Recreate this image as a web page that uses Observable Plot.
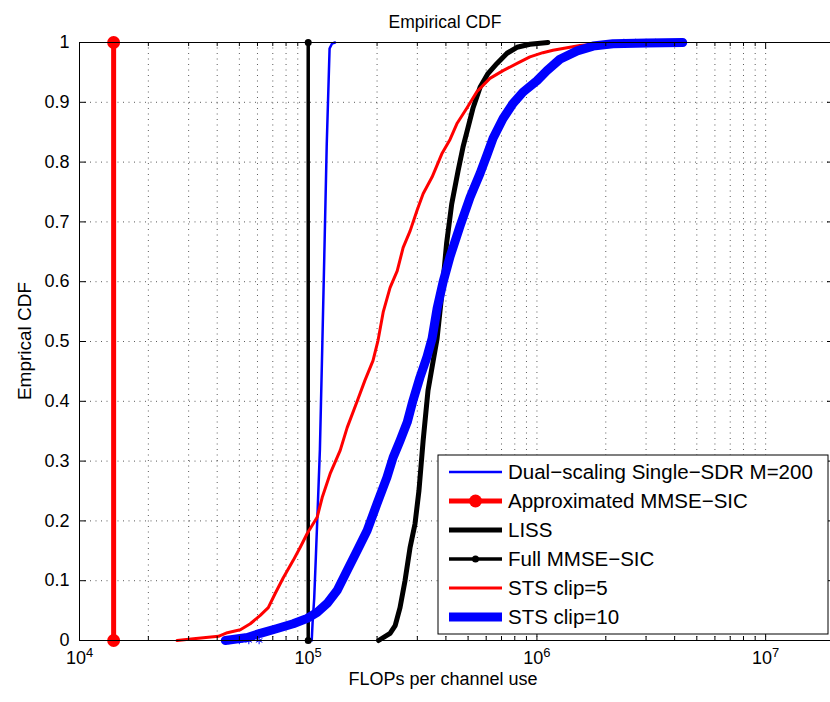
<!DOCTYPE html>
<html><head><meta charset="utf-8">
<script src="https://cdn.jsdelivr.net/npm/d3@7"></script>
<script src="https://cdn.jsdelivr.net/npm/@observablehq/plot@0.6"></script>
<style>
html,body{margin:0;padding:0;background:#fff;overflow:hidden;}
#chart{position:relative;width:830px;height:702px;overflow:hidden;}
</style></head><body><div id="chart"></div>
<script>
// ---------- data (x = FLOPs per channel use, y = empirical CDF) ----------
const dualScaling = [[1.036e5,0],[1.045e5,0.03],[1.062e5,0.07],[1.08e5,0.14],[1.10e5,0.22],[1.125e5,0.32],[1.151e5,0.485],[1.18e5,0.67],[1.205e5,0.83],[1.24e5,0.99],[1.27e5,0.998],[1.31e5,1]];
const approxMMSE = [[1.41e4,0],[1.41e4,1]];
const liss = [[2.03e5,0],[2.28e5,0.012],[2.40e5,0.025],[2.52e5,0.055],[2.65e5,0.10],[2.79e5,0.156],[2.93e5,0.195],[3.05e5,0.251],[3.18e5,0.334],[3.34e5,0.418],[3.52e5,0.468],[3.66e5,0.505],[3.84e5,0.58],[4.03e5,0.665],[4.24e5,0.73],[4.52e5,0.785],[4.75e5,0.825],[5.0e5,0.858],[5.26e5,0.891],[5.64e5,0.925],[6.11e5,0.948],[6.69e5,0.965],[7.40e5,0.982],[8.18e5,0.992],[9.32e5,0.997],[1.117e6,1]];
const fullMMSE = [[1e5,0],[1e5,1]];
const sts5 = [[2.67e4,0],[3.15e4,0.003],[4.05e4,0.007],[4.43e4,0.013],[5.05e4,0.018],[5.58e4,0.028],[6.17e4,0.042],[6.69e4,0.055],[7.18e4,0.079],[7.78e4,0.105],[8.60e4,0.134],[9.23e4,0.156],[9.90e4,0.179],[1.094e5,0.206],[1.151e5,0.239],[1.247e5,0.279],[1.38e5,0.318],[1.48e5,0.356],[1.64e5,0.401],[1.77e5,0.435],[1.92e5,0.468],[2.02e5,0.502],[2.13e5,0.550],[2.28e5,0.59],[2.45e5,0.618],[2.60e5,0.657],[2.79e5,0.685],[2.99e5,0.719],[3.18e5,0.747],[3.48e5,0.775],[3.85e5,0.815],[4.17e5,0.838],[4.48e5,0.865],[4.95e5,0.891],[5.47e5,0.918],[6.23e5,0.94],[7.11e5,0.953],[8.19e5,0.965],[9.32e5,0.976],[1.062e6,0.983],[1.175e6,0.987],[1.54e6,0.995],[1.88e6,0.998],[2.62e6,1]];
const sts10 = [[4.34e4,0],[5.42e4,0.005],[6.17e4,0.012],[7.32e4,0.02],[8.60e4,0.028],[9.90e4,0.037],[1.094e5,0.047],[1.21e5,0.062],[1.34e5,0.084],[1.48e5,0.117],[1.64e5,0.151],[1.81e5,0.184],[2.0e5,0.229],[2.21e5,0.273],[2.35e5,0.306],[2.52e5,0.334],[2.71e5,0.365],[2.87e5,0.401],[3.08e5,0.44],[3.31e5,0.475],[3.48e5,0.505],[3.66e5,0.555],[3.89e5,0.600],[4.17e5,0.642],[4.61e5,0.693],[5.10e5,0.741],[5.64e5,0.781],[6.05e5,0.812],[6.43e5,0.840],[7.11e5,0.873],[7.86e5,0.898],[8.69e5,0.917],[1.0e6,0.936],[1.106e6,0.953],[1.26e6,0.972],[1.50e6,0.986],[1.76e6,0.994],[2.15e6,0.998],[3.02e6,0.999],[4.34e6,1]];
const sts10Stars = [[4.5e4,0],[5.0e4,0],[5.5e4,0],[6.1e4,0],[2.4e6,1],[2.7e6,1],[3.0e6,1],[3.3e6,1],[4.3e6,1]];

const xDomain = [1e4, 2e7];
const xMajorTicks = [1e4, 1e5, 1e6, 1e7];
const xMinorTicks = [2e4,3e4,4e4,5e4,6e4,7e4,8e4,9e4,2e5,3e5,4e5,5e5,6e5,7e5,8e5,9e5,2e6,3e6,4e6,5e6,6e6,7e6,8e6,9e6];
const yTickValues = [0,0.1,0.2,0.3,0.4,0.5,0.6,0.7,0.8,0.9,1];

const titleText = "Empirical CDF";
const xLabelText = "FLOPs per channel use";
const yLabelText = "Emprical CDF";

const legendNames = ["Dual\u2212scaling Single\u2212SDR M=200","Approximated MMSE\u2212SIC","LISS","Full MMSE\u2212SIC","STS clip=5","STS clip=10"];
const legendColors = ["#0000ff","#ff0000","#000000","#000000","#ff0000","#0000ff"];
const legendWidths = [2.5, 5, 5, 3.5, 3, 9];
const legendMarkerR = [0, 6.5, 0, 3.5, 0, 0];

// ---------- layout ----------
const W = 830, H = 702, mL = 79, mR = -4, mT = 42, mB = 62;
const innerW = W - mL - mR, innerH = H - mT - mB;
const FONT = "'Liberation Sans', Arial, Helvetica, sans-serif";
const FS = 18;
const majorLen = 7, minorLen = 4;
const X = d => d[0], Y = d => d[1];

const svg = Plot.plot({
  width: W, height: H,
  marginLeft: mL, marginRight: mR, marginTop: mT, marginBottom: mB,
  style: {fontFamily: FONT, fontSize: FS + "px", background: "white", color: "black", overflow: "hidden"},
  x: {type: "log", domain: xDomain},
  y: {domain: [0, 1]},
  marks: [
    Plot.ruleX(xMajorTicks.concat(xMinorTicks), {stroke: "#000", strokeOpacity: 0.65, strokeDasharray: "1,4.5"}),
    Plot.ruleY(yTickValues.filter(v => v > 0 && v < 1), {stroke: "#000", strokeOpacity: 0.65, strokeDasharray: "1,4.5"}),
    Plot.line(dualScaling, {x: X, y: Y, stroke: legendColors[0], strokeWidth: legendWidths[0]}),
    Plot.line(approxMMSE, {x: X, y: Y, stroke: legendColors[1], strokeWidth: legendWidths[1]}),
    Plot.dot(approxMMSE, {x: X, y: Y, r: legendMarkerR[1], fill: legendColors[1]}),
    Plot.line(liss, {x: X, y: Y, stroke: legendColors[2], strokeWidth: legendWidths[2], strokeLinejoin: "round"}),
    Plot.line(fullMMSE, {x: X, y: Y, stroke: legendColors[3], strokeWidth: legendWidths[3]}),
    Plot.dot(fullMMSE, {x: X, y: Y, r: legendMarkerR[3], fill: legendColors[3]}),
    Plot.line(sts5, {x: X, y: Y, stroke: legendColors[4], strokeWidth: legendWidths[4], strokeLinejoin: "round"}),
    Plot.line(sts10, {x: X, y: Y, stroke: legendColors[5], strokeWidth: legendWidths[5], strokeLinejoin: "round"}),
    Plot.dot(sts10Stars, {x: X, y: Y, symbol: "asterisk", r: 3.5, stroke: legendColors[5], strokeWidth: 1}),
    Plot.frame({stroke: "black"}),
    Plot.tickX(xMajorTicks, {insetTop: innerH - majorLen, stroke: "black"}),
    Plot.tickX(xMajorTicks, {insetBottom: innerH - majorLen, stroke: "black"}),
    Plot.tickX(xMinorTicks, {insetTop: innerH - minorLen, stroke: "black"}),
    Plot.tickX(xMinorTicks, {insetBottom: innerH - minorLen, stroke: "black"}),
    Plot.tickY(yTickValues, {insetRight: innerW - majorLen, stroke: "black"}),
    Plot.tickY(yTickValues, {insetLeft: innerW - majorLen, stroke: "black"}),
    Plot.axisX({ticks: xMajorTicks, tickSize: 0, tickPadding: 11, label: null,
      tickFormat: d => String(Math.round(Math.log10(d))), fontSize: FS}),
    Plot.axisY({ticks: yTickValues, tickSize: 0, tickPadding: 10, label: null,
      tickFormat: d => String(+d.toFixed(1)), fontSize: FS}),
    Plot.text([titleText], {frameAnchor: "top", dy: -27, dx: -12, fontSize: 17.5}),
    Plot.text([xLabelText], {frameAnchor: "bottom", dy: 44, dx: -14, fontSize: FS})
  ]
});

// superscript exponents on x tick labels: 10^k
d3.select(svg).selectAll('g[aria-label="x-axis tick label"] text').each(function() {
  const e = this.textContent;
  const t = d3.select(this);
  t.text("");
  t.append("tspan").text("10");
  t.append("tspan").attr("dy", "-0.55em").attr("font-size", "72%").text(e);
});

// y axis label (rotated), centred on the frame
d3.select(svg).append("text")
  .attr("transform", `translate(${mL - 55},${mT + innerH / 2}) rotate(-90)`)
  .attr("text-anchor", "middle").attr("dy", "0.35em")
  .attr("font-family", FONT).attr("font-size", 19).attr("fill", "black")
  .text(yLabelText);

// legend (inside the axes, lower right)
const lg = {x: 438, y: 455, w: 390, h: 179, row0: 472, rowStep: 29, lineX1: 449, lineX2: 502, textX: 508};
const g = d3.select(svg).append("g").attr("font-family", FONT).attr("font-size", 20.5).attr("text-anchor", "start");
g.append("rect").attr("x", lg.x).attr("y", lg.y).attr("width", lg.w).attr("height", lg.h)
  .attr("fill", "white").attr("stroke", "black").attr("stroke-width", 1);
legendNames.forEach((name, i) => {
  const yy = lg.row0 + i * lg.rowStep;
  g.append("line").attr("x1", lg.lineX1).attr("x2", lg.lineX2).attr("y1", yy).attr("y2", yy)
    .attr("stroke", legendColors[i]).attr("stroke-width", legendWidths[i]);
  if (legendMarkerR[i] > 0)
    g.append("circle").attr("cx", (lg.lineX1 + lg.lineX2) / 2).attr("cy", yy).attr("r", legendMarkerR[i]).attr("fill", legendColors[i]);
  g.append("text").attr("x", lg.textX).attr("y", yy).attr("dy", "0.36em").attr("fill", "black").attr("text-anchor", "start").text(name);
});

document.getElementById("chart").appendChild(svg);
</script>
</body></html>
